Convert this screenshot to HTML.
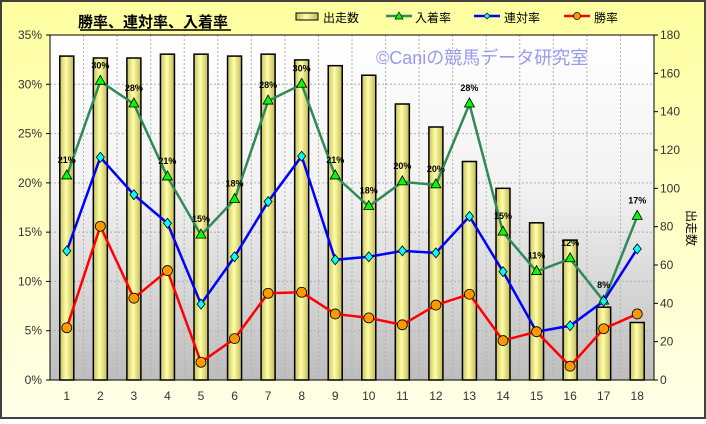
<!DOCTYPE html>
<html><head><meta charset="utf-8"><style>
body{margin:0;width:706px;height:419px;overflow:hidden;}
svg text{font-family:"Liberation Sans","Noto Sans CJK JP",sans-serif;}
</style></head><body>
<svg width="706" height="419" viewBox="0 0 706 419" xmlns="http://www.w3.org/2000/svg">
<defs>
<linearGradient id="bg" x1="0" y1="0" x2="0" y2="1"><stop offset="0" stop-color="#ffffa0"/><stop offset="1" stop-color="#ffffe8"/></linearGradient>
<linearGradient id="pa" x1="0" y1="0" x2="0" y2="1"><stop offset="0" stop-color="#ffffff"/><stop offset="0.45" stop-color="#f2f2f2"/><stop offset="1" stop-color="#bdbdbd"/></linearGradient>
<linearGradient id="bar" x1="0" y1="0" x2="1" y2="0"><stop offset="0" stop-color="#c8c060"/><stop offset="0.45" stop-color="#ffffa8"/><stop offset="1" stop-color="#c0b858"/></linearGradient>
</defs>
<rect x="1" y="1" width="704" height="417" fill="url(#bg)" stroke="#404040" stroke-width="2"/>
<rect x="50" y="35" width="604" height="345" fill="url(#pa)"/>
<g id="grid" stroke="#b0b0b0" stroke-dasharray="2,2" stroke-width="1"></g>
<rect x="50" y="35" width="604" height="345" fill="none" stroke="#000" stroke-width="1"/>
<g id="bars"></g><g id="lines"></g>
<text x="78" y="27" font-size="15" font-weight="bold" fill="#000">勝率、連対率、入着率</text>
<line x1="80" y1="30" x2="231" y2="30" stroke="#000" stroke-width="1.5"/>
<rect x="296" y="13" width="22" height="7" fill="url(#bar)" stroke="#000"/>
<text x="323" y="22" font-size="12">出走数</text>
<line x1="386" y1="16" x2="412" y2="16" stroke="#2e8b57" stroke-width="2.5"/><polygon points="399,12 403,19 395,19" fill="#00ff00" stroke="#000" stroke-width="0.7"/>
<text x="415" y="22" font-size="12">入着率</text>
<line x1="474" y1="16" x2="500" y2="16" stroke="#0000ff" stroke-width="2.5"/><polygon points="487,13 490,16 487,19 484,16" fill="#00ffff" stroke="#000" stroke-width="0.7"/>
<text x="504" y="22" font-size="12">連対率</text>
<line x1="564" y1="16" x2="590" y2="16" stroke="#ff0000" stroke-width="2.5"/><circle cx="577" cy="16" r="3.5" fill="#ff9900" stroke="#000" stroke-width="0.7"/>
<text x="594" y="22" font-size="12">勝率</text>
<text x="376" y="64" font-size="18" fill="#9a9aee">©Caniの競馬データ研究室</text>
<text x="687" y="228" font-size="12" transform="rotate(90 687 228)" text-anchor="middle">出走数</text>
<g id="ax" font-size="12" fill="#333"></g>
</svg>
<script>
const ns="http://www.w3.org/2000/svg";
function el(p,t,a,txt){const e=document.createElementNS(ns,t);for(const k in a)e.setAttribute(k,a[k]);if(txt!==undefined)e.textContent=txt;document.getElementById(p).appendChild(e);return e;}
const L=50,R=654,T=35,B=380,W=(R-L)/18;
const yp=v=>B-v/35*345, yc=v=>B-v/180*345, cx=i=>L+W*(i+0.5);
for(let i=1;i<7;i++)el('grid','line',{x1:L,x2:R,y1:yp(i*5),y2:yp(i*5)});
for(let i=1;i<18;i++)el('grid','line',{x1:L+W*i,x2:L+W*i,y1:T,y2:B});
for(let i=0;i<=7;i++){el('ax','text',{x:42,y:yp(i*5)+4,'text-anchor':'end'},(i*5)+'%');el('ax','line',{x1:46,x2:50,y1:yp(i*5),y2:yp(i*5),stroke:'#000'});}
for(let i=0;i<=9;i++){el('ax','text',{x:660,y:yc(i*20)+4},i*20);el('ax','line',{x1:654,x2:658,y1:yc(i*20),y2:yc(i*20),stroke:'#000'});}
for(let i=0;i<18;i++)el('ax','text',{x:cx(i),y:400,'text-anchor':'middle'},i+1);
const n=[169,168,168,170,170,169,170,167,164,159,144,132,114,100,82,73,38,30];
const a=[20.7,30.3,28,20.6,14.7,18.3,28.3,30,20.7,17.6,20.1,19.8,28,15,11,12.3,8,16.6];
const b=[13.1,22.6,18.8,15.9,7.7,12.5,18.1,22.7,12.2,12.5,13.1,12.9,16.6,11,4.9,5.5,8,13.3];
const c=[5.3,15.6,8.3,11.1,1.8,4.2,8.8,8.9,6.7,6.3,5.6,7.6,8.7,4,4.9,1.4,5.2,6.7];
const lab=[21,30,28,21,15,18,28,30,21,18,20,20,28,15,11,12,8,17];
n.forEach((v,i)=>el('bars','rect',{x:cx(i)-7,y:yc(v),width:14,height:B-yc(v),fill:'url(#bar)',stroke:'#000','stroke-width':1.5}));
const pl=(d,col,f)=>el('lines','polyline',{points:d.map((v,i)=>cx(i)+','+yp(v)).join(' '),fill:'none',stroke:col,'stroke-width':2.5});
pl(a,'#2e8b57');pl(b,'#0000ff');pl(c,'#ff0000');
a.forEach((v,i)=>{const x=cx(i),y=yp(v);el('lines','polygon',{points:`${x},${y-6} ${x+5},${y+3} ${x-5},${y+3}`,fill:'#00ff00',stroke:'#000','stroke-width':0.8});
el('lines','text',{x:x,y:y-13,'text-anchor':'middle','font-size':9,'font-weight':'bold'},lab[i]+'%');});
b.forEach((v,i)=>{const x=cx(i),y=yp(v);el('lines','polygon',{points:`${x},${y-5} ${x+4},${y} ${x},${y+5} ${x-4},${y}`,fill:'#00ffff',stroke:'#000','stroke-width':0.8});});
c.forEach((v,i)=>{el('lines','circle',{cx:cx(i),cy:yp(v),r:5,fill:'#ff9900',stroke:'#000','stroke-width':0.8});});
</script>
</body></html>
